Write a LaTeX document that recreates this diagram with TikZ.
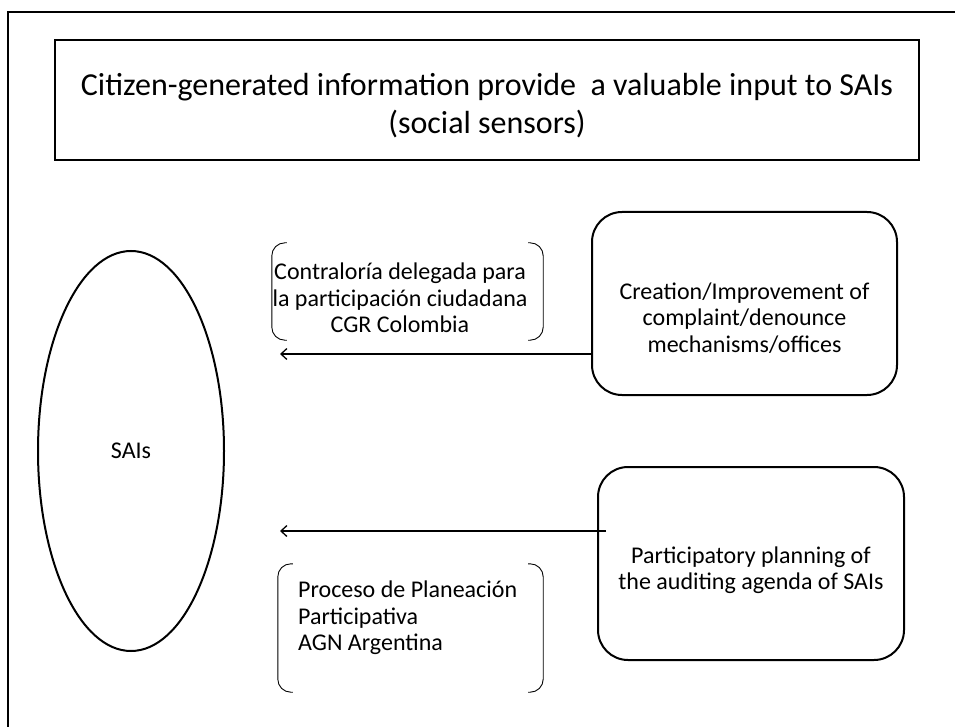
\documentclass[tikz,border=0pt]{standalone}
\usepackage{fontspec}
\setmainfont{Carlito}
\usetikzlibrary{arrows.meta,shapes.geometric}
\begin{document}
\begin{tikzpicture}[x=1pt,y=-1pt,
  frame/.style={line width=2pt},
  bigbox/.style={draw,line width=2pt,rounded corners=30pt,inner sep=0pt},
  bodytext/.style={font=\fontsize{24}{26.5}\selectfont,align=center,inner sep=0pt},
  brk/.style={line width=0.9pt,rounded corners=13pt},
  arr/.style={line width=1.3pt,-{Straight Barb[length=6pt,width=11pt,line width=1.3pt]}}
]
\useasboundingbox (0,0) rectangle (955,727);
% partial outer frame
\coordinate (fbl) at (8,727);
\coordinate (ftl) at (8,12);
\coordinate (ftr) at (955,12);
\draw[frame] (fbl) -- (ftl) -- (ftr);

% title
\node[draw,line width=2pt,minimum width=864pt,minimum height=120pt,inner sep=0pt] (titlebox) at (487,100) {};
\node[font=\fontsize{32}{38}\selectfont,align=center,inner sep=0pt] (titletext) at (487,106)
  {Citizen-generated information provide\ \ a valuable input to SAIs\\(social sensors)};

% SAIs ellipse
\node[ellipse,draw,line width=2pt,minimum width=186pt,minimum height=400pt,inner sep=0pt,
  font=\fontsize{24}{26.5}\selectfont] (sais) at (131,451) {SAIs};

% right boxes
\node[bigbox,minimum width=305pt,minimum height=183pt] (box1) at (744.5,303.5) {};
\node[bodytext] (box1text) at (744.5,318)
  {Creation/Improvement of\\complaint/denounce\\mechanisms/offices};
\node[bigbox,minimum width=306pt,minimum height=193pt] (box2) at (751,563.5) {};
\node[bodytext] (box2text) at (751,570)
  {Participatory planning of\\the auditing agenda of SAIs};

% bracket groups
\node[minimum width=271pt,minimum height=97pt,inner sep=0pt] (cgrbox) at (407.5,291.5) {};
\draw[brk] ([xshift=15pt]cgrbox.north west) -- (cgrbox.north west) -- (cgrbox.south west) -- ([xshift=15pt]cgrbox.south west);
\draw[brk] ([xshift=-15pt]cgrbox.north east) -- (cgrbox.north east) -- (cgrbox.south east) -- ([xshift=-15pt]cgrbox.south east);
\node[bodytext] (cgrtext) at (400,298)
  {Contraloría delegada para\\la participación ciudadana\\CGR Colombia};

\node[minimum width=265pt,minimum height=128pt,inner sep=0pt] (agnbox) at (410.5,628) {};
\draw[brk] ([xshift=15pt]agnbox.north west) -- (agnbox.north west) -- (agnbox.south west) -- ([xshift=15pt]agnbox.south west);
\draw[brk] ([xshift=-15pt]agnbox.north east) -- (agnbox.north east) -- (agnbox.south east) -- ([xshift=-15pt]agnbox.south east);
\node[bodytext,align=left,anchor=west] (agntext) at (298,618)
  {Proceso de Planeación\\Participativa\\AGN Argentina};

% arrows
\coordinate (a1end) at (280,354);
\coordinate (a2end) at (280,531);
\draw[arr] ([yshift=-50.5pt]box1.west) -- (a1end);
\draw[arr] ([xshift=9pt,yshift=32.5pt]box2.west) -- (a2end);
\end{tikzpicture}
\end{document}
